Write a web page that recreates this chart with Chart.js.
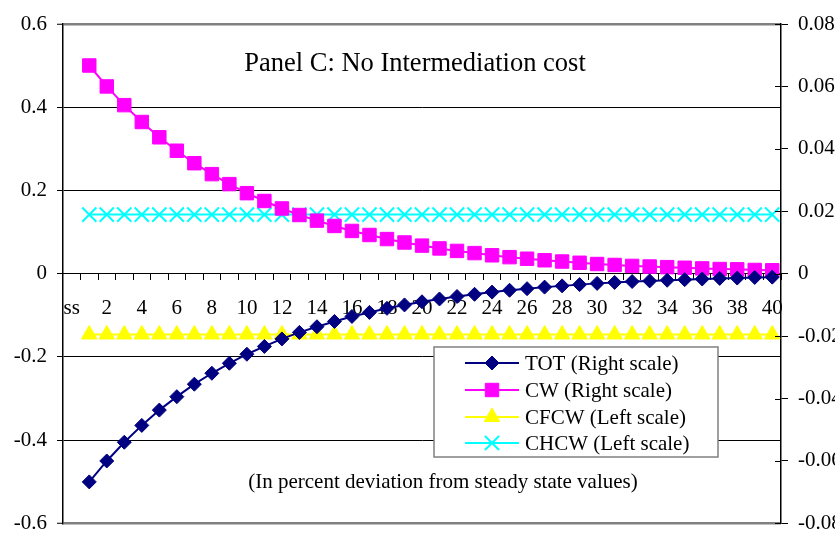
<!DOCTYPE html>
<html>
<head>
<meta charset="utf-8">
<script src="https://cdn.jsdelivr.net/npm/chart.js@4.4.0/dist/chart.umd.min.js"></script>
<style>
  html, body { margin: 0; padding: 0; background: #fff; overflow: hidden; }
  #wrap { width: 880px; height: 546px; }
</style>
</head>
<body>
<div id="wrap"><canvas id="canvas" width="880" height="546"></canvas></div>
<script>
// data
const periods = ['ss', '1', '2', '3', '4', '5', '6', '7', '8', '9', '10',
  '11', '12', '13', '14', '15', '16', '17', '18', '19', '20',
  '21', '22', '23', '24', '25', '26', '27', '28', '29', '30',
  '31', '32', '33', '34', '35', '36', '37', '38', '39', '40'];

// right scale
const totValues = [null, -0.0667, -0.0600, -0.0540, -0.0486, -0.0437, -0.0394, -0.0354, -0.0319, -0.0287, -0.0258,
  -0.0233, -0.0209, -0.0188, -0.0170, -0.0153, -0.0137, -0.0124, -0.0111, -0.0100, -0.0090,
  -0.0081, -0.0073, -0.0066, -0.0059, -0.0053, -0.0048, -0.0043, -0.0039, -0.0035, -0.0031,
  -0.0028, -0.0025, -0.0023, -0.0021, -0.0019, -0.0017, -0.0015, -0.0014, -0.0012, -0.0011];
const cwValues = [null, 0.0667, 0.0600, 0.0540, 0.0486, 0.0437, 0.0394, 0.0354, 0.0319, 0.0287, 0.0258,
  0.0233, 0.0209, 0.0188, 0.0170, 0.0153, 0.0137, 0.0124, 0.0111, 0.0100, 0.0090,
  0.0081, 0.0073, 0.0066, 0.0059, 0.0053, 0.0048, 0.0043, 0.0039, 0.0035, 0.0031,
  0.0028, 0.0025, 0.0023, 0.0021, 0.0019, 0.0017, 0.0015, 0.0014, 0.0012, 0.0011];

// left scale
const cfcwValues = [null, -0.146, -0.146, -0.146, -0.146, -0.146, -0.146, -0.146, -0.146, -0.146, -0.146,
  -0.146, -0.146, -0.146, -0.146, -0.146, -0.146, -0.146, -0.146, -0.146, -0.146,
  -0.146, -0.146, -0.146, -0.146, -0.146, -0.146, -0.146, -0.146, -0.146, -0.146,
  -0.146, -0.146, -0.146, -0.146, -0.146, -0.146, -0.146, -0.146, -0.146, -0.146];
const chcwValues = [null, 0.142, 0.142, 0.142, 0.142, 0.142, 0.142, 0.142, 0.142, 0.142, 0.142,
  0.142, 0.142, 0.142, 0.142, 0.142, 0.142, 0.142, 0.142, 0.142, 0.142,
  0.142, 0.142, 0.142, 0.142, 0.142, 0.142, 0.142, 0.142, 0.142, 0.142,
  0.142, 0.142, 0.142, 0.142, 0.142, 0.142, 0.142, 0.142, 0.142, 0.142];

const leftTicks = [-0.6, -0.4, -0.2, 0, 0.2, 0.4, 0.6];
const rightTicks = [-0.08, -0.06, -0.04, -0.02, 0, 0.02, 0.04, 0.06, 0.08];

const titleText = 'Panel C: No Intermediation cost';
const noteText = '(In percent deviation from steady state values)';
const seriesNames = ['TOT (Right scale)', 'CW (Right scale)', 'CFCW (Left scale)', 'CHCW (Left scale)'];

const serif = '"Liberation Serif", "Times New Roman", serif';

// title, note, legend box and the inner half of the right ticks
const extras = {
  id: 'extras',
  afterDraw: function(chart) {
    const ctx = chart.ctx;
    const area = chart.chartArea;
    ctx.save();

    // right axis ticks cross the axis line
    const r = chart.scales.y1;
    ctx.strokeStyle = '#000';
    ctx.lineWidth = 1;
    r.ticks.forEach(function(t) {
      const y = Math.round(r.getPixelForValue(t.value)) + 0.5;
      ctx.beginPath();
      ctx.moveTo(area.right - 6, y);
      ctx.lineTo(area.right, y);
      ctx.stroke();
    });

    ctx.fillStyle = '#000';
    ctx.textAlign = 'center';
    ctx.textBaseline = 'alphabetic';
    ctx.font = '26.5px ' + serif;
    ctx.fillText(titleText, 415, 71);
    ctx.font = '21px ' + serif;
    ctx.fillText(noteText, 443, 488);

    // legend
    const bx = 434, by = 347, bw = 284, bh = 110;
    ctx.fillStyle = '#fff';
    ctx.fillRect(bx, by, bw, bh);
    ctx.strokeStyle = '#808080';
    ctx.lineWidth = 1.5;
    ctx.strokeRect(bx, by, bw, bh);

    const rows = [363, 390, 417, 443];
    chart.data.datasets.forEach(function(ds, i) {
      const y = rows[i];
      ctx.strokeStyle = ds.borderColor;
      ctx.lineWidth = 2;
      ctx.beginPath();
      ctx.moveTo(465, y);
      ctx.lineTo(519, y);
      ctx.stroke();
      ctx.fillStyle = ds.pointBackgroundColor;
      ctx.strokeStyle = ds.pointBorderColor;
      ctx.lineWidth = ds.pointBorderWidth;
      Chart.helpers.drawPoint(ctx, {
        pointStyle: ds.pointStyle,
        radius: ds.pointRadius,
        borderWidth: ds.pointBorderWidth,
        rotation: 0
      }, 492, y);
      ctx.fillStyle = '#000';
      ctx.textAlign = 'left';
      ctx.textBaseline = 'middle';
      ctx.font = '21px ' + serif;
      ctx.fillText(ds.label, 525, y + 1);
    });
    ctx.restore();
  }
};

let canvas = document.getElementById('canvas');
let chart = new Chart(canvas, {
  type: 'line',
  data: {
    labels: periods,
    datasets: [
      {
        label: seriesNames[0],
        data: totValues,
        yAxisID: 'y1',
        borderColor: '#000080',
        borderWidth: 2,
        pointStyle: 'rectRot',
        pointRadius: 7,
        pointBackgroundColor: '#000080',
        pointBorderColor: '#000080',
        pointBorderWidth: 1
      },
      {
        label: seriesNames[1],
        data: cwValues,
        yAxisID: 'y1',
        borderColor: '#ff00ff',
        borderWidth: 2,
        pointStyle: 'rect',
        pointRadius: 9.5,
        pointBackgroundColor: '#ff00ff',
        pointBorderColor: '#ff00ff',
        pointBorderWidth: 1
      },
      {
        label: seriesNames[2],
        data: cfcwValues,
        yAxisID: 'y',
        borderColor: '#ffff00',
        borderWidth: 2,
        pointStyle: 'triangle',
        pointRadius: 9,
        pointBackgroundColor: '#ffff00',
        pointBorderColor: '#ffff00',
        pointBorderWidth: 1
      },
      {
        label: seriesNames[3],
        data: chcwValues,
        yAxisID: 'y',
        borderColor: '#00ffff',
        borderWidth: 2,
        pointStyle: 'crossRot',
        pointRadius: 10,
        pointBackgroundColor: '#00ffff',
        pointBorderColor: '#00ffff',
        pointBorderWidth: 2
      }
    ]
  },
  options: {
    responsive: false,
    animation: false,
    layout: { padding: { left: 0, right: 0, top: 24, bottom: 11 } },
    plugins: {
      legend: { display: false },
      tooltip: { enabled: false }
    },
    scales: {
      x: {
        type: 'category',
        position: { y: 0 },
        offset: true,
        border: { display: true, color: '#000', width: 1 },
        grid: {
          offset: true,
          drawOnChartArea: false,
          drawTicks: true,
          tickLength: 6,
          color: '#000'
        },
        ticks: {
          autoSkip: false,
          maxRotation: 0,
          padding: 16,
          color: '#000',
          font: { family: serif, size: 21 },
          callback: function(val, i) {
            return i % 2 === 0 ? periods[i] : '';
          }
        }
      },
      y: {
        position: 'left',
        min: -0.6,
        max: 0.6,
        afterBuildTicks: function(s) {
          s.ticks = leftTicks.map(function(v) { return { value: v }; });
        },
        afterFit: function(s) { s.width = 63; },
        border: { display: true, color: '#000', width: 1.5 },
        grid: {
          color: function(c) {
            return Math.abs(c.tick.value) > 0.59 ? '#808080' : '#000';
          },
          lineWidth: function(c) {
            return Math.abs(c.tick.value) > 0.59 ? 2.5 : 1;
          },
          tickColor: '#000',
          tickWidth: 1,
          tickLength: 6
        },
        ticks: {
          padding: 10,
          color: '#000',
          font: { family: serif, size: 21 },
          callback: function(v) { return String(+v.toFixed(1)); }
        }
      },
      y1: {
        position: 'right',
        min: -0.08,
        max: 0.08,
        afterBuildTicks: function(s) {
          s.ticks = rightTicks.map(function(v) { return { value: v }; });
        },
        afterFit: function(s) { s.width = 99; },
        border: { display: true, color: '#000', width: 1.5 },
        grid: {
          drawOnChartArea: false,
          tickColor: '#000',
          tickWidth: 1,
          tickLength: 7
        },
        ticks: {
          padding: 10,
          color: '#000',
          font: { family: serif, size: 21 },
          callback: function(v) { return String(+v.toFixed(2)); }
        }
      }
    }
  },
  plugins: [extras]
});
</script>
</body>
</html>
